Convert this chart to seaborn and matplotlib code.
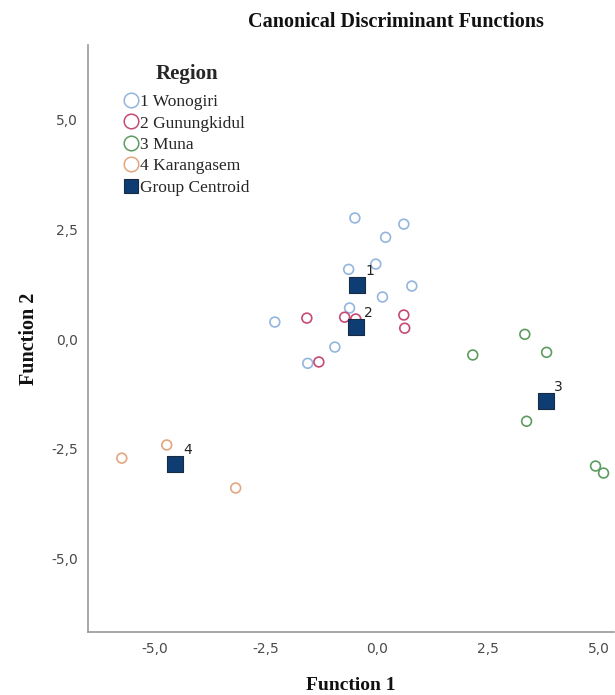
import matplotlib
matplotlib.use("Agg")
import matplotlib.pyplot as plt
from matplotlib.lines import Line2D
import seaborn as sns
import pandas as pd

# ---- data ----
regions = ["1 Wonogiri", "2 Gunungkidul", "3 Muna", "4 Karangasem"]
wonogiri_x = [-0.49, 0.20, 0.61, -0.02, -0.63, 0.79, 0.13, -0.61, -2.29, -0.94, -1.55]
wonogiri_y = [2.76, 2.32, 2.62, 1.71, 1.59, 1.21, 0.96, 0.71, 0.39, -0.18, -0.55]
gunung_x = [-1.57, -0.72, -0.47, 0.61, 0.63, -1.30]
gunung_y = [0.48, 0.50, 0.46, 0.55, 0.25, -0.52]
muna_x = [3.33, 3.82, 2.16, 3.37, 4.92, 5.10]
muna_y = [0.11, -0.30, -0.36, -1.87, -2.89, -3.05]
karang_x = [-5.73, -4.72, -3.17]
karang_y = [-2.71, -2.41, -3.39]
centroid_labels = ["1", "2", "3", "4"]
centroid_x = [-0.45, -0.47, 3.80, -4.54]
centroid_y = [1.23, 0.27, -1.41, -2.85]
xticks = [-5.0, -2.5, 0.0, 2.5, 5.0]
yticks = [-5.0, -2.5, 0.0, 2.5, 5.0]

colors = ["#93b5de", "#c64a74", "#5e9b60", "#e3a67e"]
centroid_color = "#0e3d73"

groups = [(wonogiri_x, wonogiri_y), (gunung_x, gunung_y), (muna_x, muna_y), (karang_x, karang_y)]
rows = []
for name, (gx, gy) in zip(regions, groups):
    for a, b in zip(gx, gy):
        rows.append({"f1": a, "f2": b, "Region": name})
df = pd.DataFrame(rows)
cdf = pd.DataFrame({"f1": centroid_x, "f2": centroid_y, "lab": centroid_labels})

sns.set_theme(style="white")
plt.rcParams["font.family"] = ["DejaVu Sans"]

fig = plt.figure(figsize=(6.15, 6.95), dpi=100)
ax = fig.add_axes([88 / 615, 1 - 632 / 695, 1 - 88 / 615 - 0.002, (632 - 45) / 695])

sns.scatterplot(data=df, x="f1", y="f2", hue="Region", hue_order=regions,
                palette=colors, s=50, legend=False, ax=ax, linewidth=1.2, zorder=3)
coll = ax.collections[0]
fc = coll.get_facecolors()
coll.set_edgecolors(fc)
coll.set_facecolors("none")

sns.scatterplot(data=cdf, x="f1", y="f2", marker="s", s=125, color=centroid_color,
                edgecolor="#1a2a40", linewidth=0.8, legend=False, ax=ax, zorder=4)

for lab, cx, cy in zip(centroid_labels, centroid_x, centroid_y):
    ax.annotate(lab, (cx, cy), xytext=(6, 5), textcoords="offset points",
                fontsize=10, color="#222222", ha="left", va="bottom")

ax.set_xlim(-6.49, 5.33)
ax.set_ylim(-6.67, 6.70)
ax.set_xticks(xticks)
ax.set_yticks(yticks)
fmt = lambda v: f"{v:.1f}".replace(".", ",")
ax.set_xticklabels([fmt(v) for v in xticks], fontsize=10, color="#4a4a4a")
ax.set_yticklabels([fmt(v) for v in yticks], fontsize=10, color="#4a4a4a")
ax.tick_params(axis="both", length=0, pad=7)

for side in ["top", "right"]:
    ax.spines[side].set_visible(False)
for side in ["left", "bottom"]:
    ax.spines[side].set_color("#9a9a9a")
    ax.spines[side].set_linewidth(1.2)

ax.set_xlabel("Function 1", fontfamily="Liberation Serif", fontweight="bold",
              fontsize=14, color="#111111", labelpad=15)
ax.set_ylabel("Function 2", fontfamily="Liberation Serif", fontweight="bold",
              fontsize=14.5, color="#111111", labelpad=9)

fig.text(396 / 615, 1 - 22 / 695, "Canonical Discriminant Functions",
         fontfamily="Liberation Serif", fontweight="bold", fontsize=14.5,
         ha="center", va="center", color="#111111")

handles = [Line2D([0], [0], marker="o", linestyle="none", markersize=10.5,
                  markerfacecolor="none", markeredgecolor=c, markeredgewidth=1.1)
           for c in colors]
handles.append(Line2D([0], [0], marker="s", linestyle="none", markersize=10.5,
                      markerfacecolor=centroid_color, markeredgecolor="#1a2a40",
                      markeredgewidth=0.8))
leg = ax.legend(handles, regions + ["Group Centroid"], title="Region",
                loc="upper left", bbox_to_anchor=(0.055, 0.979), frameon=False,
                prop={"family": "Liberation Serif", "size": 12.5},
                title_fontproperties={"family": "Liberation Serif", "weight": "bold", "size": 15},
                handlelength=0.8, handletextpad=0.15, labelspacing=0.3, borderaxespad=0)
leg._legend_box.sep = 7

fig.savefig("out.png", dpi=100)
